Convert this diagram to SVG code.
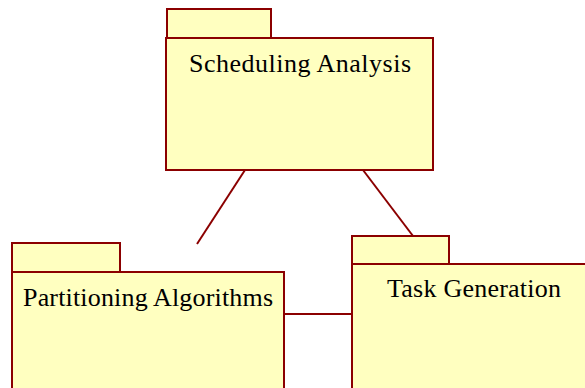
<svg xmlns="http://www.w3.org/2000/svg" width="585" height="388" viewBox="0 0 585 388">
<style>
.pk{fill:#FFFFC0;stroke:#8B0000;stroke-width:2}
.ln{stroke:#8B0000;stroke-width:2;fill:none}
.lb{font-family:"Liberation Serif","Times New Roman",serif;font-size:26px;fill:#000;text-anchor:middle}
</style>
<rect width="585" height="388" fill="#fff"/>
<g id="connectors">
<line class="ln" x1="245" y1="170" x2="197" y2="244"/>
<line class="ln" x1="363" y1="170" x2="413" y2="236"/>
<line class="ln" x1="284" y1="314" x2="352" y2="314"/>
</g>
<g id="scheduling-analysis">
<rect class="pk" x="167" y="9" width="104" height="29"/>
<rect class="pk" x="166" y="38" width="267" height="132"/>
<text class="lb" x="300" y="72" textLength="222" lengthAdjust="spacing">Scheduling Analysis</text>
</g>
<g id="partitioning-algorithms">
<rect class="pk" x="12" y="243" width="108" height="29"/>
<rect class="pk" x="12" y="272" width="272" height="130"/>
<text class="lb" x="148" y="306" textLength="250" lengthAdjust="spacing">Partitioning Algorithms</text>
</g>
<g id="task-generation">
<rect class="pk" x="352" y="236" width="97" height="28"/>
<rect class="pk" x="352" y="264" width="250" height="140"/>
<text class="lb" x="474" y="297" textLength="174" lengthAdjust="spacing">Task Generation</text>
</g>
</svg>
